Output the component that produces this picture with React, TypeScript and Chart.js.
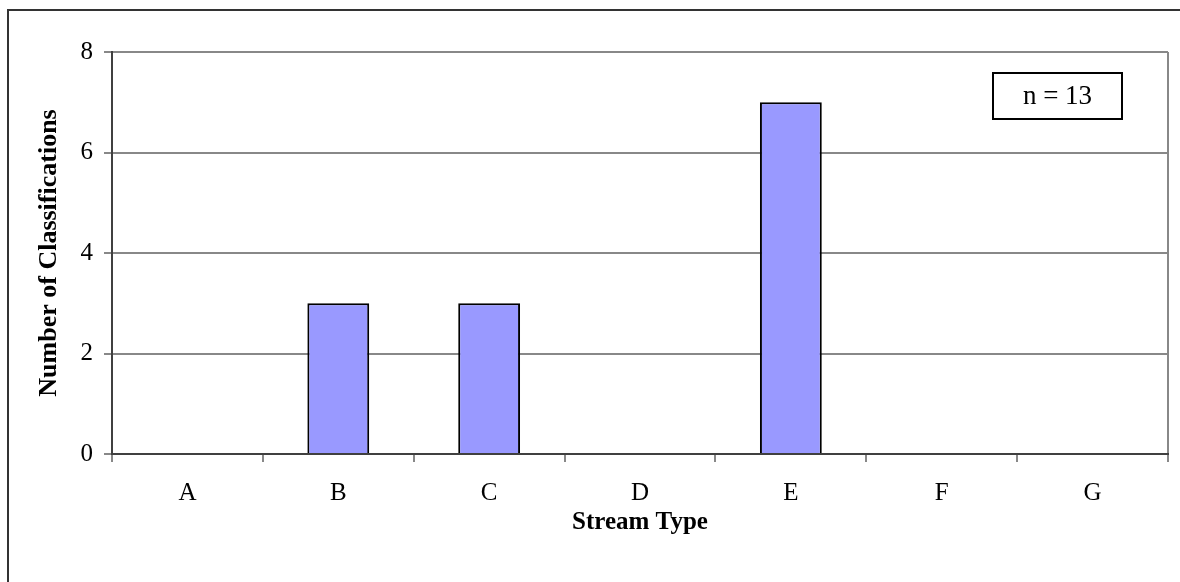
import React, { useEffect, useRef } from 'react';
import { Chart, registerables } from 'chart.js';

Chart.register(...registerables);

const categories = ['A', 'B', 'C', 'D', 'E', 'F', 'G'];
const classificationCounts = [0, 3, 3, 0, 7, 0, 0];
const yTickValues = [0, 2, 4, 6, 8];
const xAxisTitle = 'Stream Type';
const yAxisTitle = 'Number of Classifications';
const noteText = 'n = 13';

const SERIF = '"Liberation Serif", "Times New Roman", Times, serif';

const framePlugin = {
  id: 'frame',
  beforeDraw(chart: any) {
    const ctx = chart.ctx;
    const { right, top, bottom } = chart.chartArea;
    ctx.save();
    ctx.fillStyle = '#ffffff';
    ctx.fillRect(0, 0, chart.width, chart.height);
    // outer frame (top and left edges visible)
    ctx.strokeStyle = '#333333';
    ctx.lineWidth = 2;
    ctx.beginPath();
    ctx.moveTo(8, chart.height);
    ctx.lineTo(8, 10);
    ctx.lineTo(chart.width, 10);
    ctx.stroke();
    // plot area right border
    ctx.strokeStyle = '#888888';
    ctx.lineWidth = 2;
    ctx.beginPath();
    ctx.moveTo(right, top);
    ctx.lineTo(right, bottom);
    ctx.stroke();
    ctx.restore();
  },
  afterDraw(chart: any) {
    const ctx = chart.ctx;
    const { right, top } = chart.chartArea;
    const w = 129;
    const h = 46;
    const x = right - 46 - w;
    const y = top + 21;
    ctx.save();
    ctx.fillStyle = '#ffffff';
    ctx.fillRect(x, y, w, h);
    ctx.strokeStyle = '#000000';
    ctx.lineWidth = 2;
    ctx.strokeRect(x, y, w, h);
    ctx.fillStyle = '#000000';
    ctx.font = `27px ${SERIF}`;
    ctx.textAlign = 'center';
    ctx.textBaseline = 'middle';
    ctx.fillText(noteText, x + w / 2, y + h / 2 + 1);
    ctx.restore();
  },
};

export default function App() {
  const canvasRef = useRef<HTMLCanvasElement | null>(null);

  useEffect(() => {
    if (!canvasRef.current) return;
    const chart = new Chart(canvasRef.current, {
      type: 'bar',
      data: {
        labels: categories,
        datasets: [
          {
            label: 'Classifications',
            data: classificationCounts,
            backgroundColor: '#9999FF',
            borderColor: '#000000',
            borderWidth: 2,
            barPercentage: 0.41,
            categoryPercentage: 1,
          },
        ],
      },
      options: {
        animation: false,
        responsive: true,
        maintainAspectRatio: false,
        layout: { padding: { top: 52, right: 12, left: 0, bottom: 0 } },
        plugins: {
          legend: { display: false },
          tooltip: { enabled: false },
        },
        scales: {
          x: {
            grid: {
              offset: true,
              drawOnChartArea: false,
              drawTicks: true,
              tickLength: 8,
              tickColor: '#888888',
              lineWidth: 2,
            },
            border: { display: true, color: '#404040', width: 2 },
            ticks: {
              color: '#000000',
              padding: 16,
              font: { family: SERIF, size: 25 },
            },
            title: {
              display: true,
              text: xAxisTitle,
              color: '#000000',
              font: { family: SERIF, size: 25, weight: 'bold' },
              padding: { top: 0, bottom: 44 },
            },
            afterFit(scale: any) {
              scale.height = 128;
            },
          },
          y: {
            min: 0,
            max: 8,
            afterBuildTicks(scale: any) {
              scale.ticks = yTickValues.map((v) => ({ value: v }));
            },
            grid: {
              color: '#888888',
              lineWidth: 2,
              drawTicks: true,
              tickLength: 8,
              tickColor: '#888888',
            },
            border: { display: true, color: '#404040', width: 2 },
            ticks: {
              color: '#000000',
              padding: 11,
              font: { family: SERIF, size: 25 },
            },
            title: {
              display: true,
              text: yAxisTitle,
              color: '#000000',
              font: { family: SERIF, size: 26, weight: 'bold' },
              padding: { top: 34, bottom: 0 },
            },
            afterFit(scale: any) {
              scale.width = 112;
            },
          },
        },
      },
      plugins: [framePlugin],
    });
    return () => chart.destroy();
  }, []);

  return (
    <div style={{ position: 'fixed', left: 0, top: 0, width: 1180, height: 582 }}>
      <canvas ref={canvasRef} />
    </div>
  );
}
